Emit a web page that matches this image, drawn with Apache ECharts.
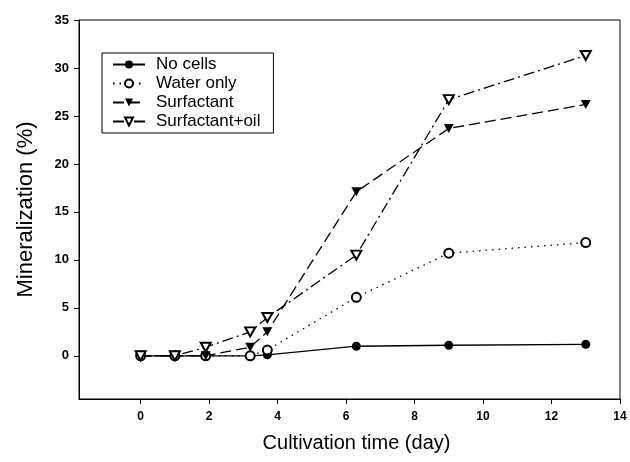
<!DOCTYPE html>
<html>
<head>
    <meta charset="utf-8">
    <title>Mineralization</title>
    <script src="https://cdn.jsdelivr.net/npm/echarts@6/dist/echarts.min.js"></script>
    <style>
        html, body { margin: 0; padding: 0; background: #fff; }
        #chart { width: 630px; height: 462px; }
    </style>
</head>
<body>
<div id="chart"></div>
<script>
    // sampling days and mineralization (%) per treatment
    var days = [0, 1, 1.9, 3.2, 3.7, 6.3, 9, 13];
    var noCells = [0, 0, 0, 0, 0.1, 1.0, 1.1, 1.2];
    var waterOnly = [0, 0, 0, 0, 0.6, 6.1, 10.7, 11.8];
    var surfactant = [0, 0, 0, 0.9, 2.5, 17.1, 23.7, 26.2];
    var surfactantOil = [0, 0, 0.9, 2.5, 4.0, 10.5, 26.7, 31.3];
    var xTicks = [0, 2, 4, 6, 8, 10, 12, 14];
    var yTicks = [0, 5, 10, 15, 20, 25, 30, 35];

    function pairs(ys) {
        return days.map(function (d, i) { return [d, ys[i]]; });
    }

    var chart = echarts.init(document.getElementById('chart'));

    var font = 'Liberation Sans, Arial, sans-serif';

    function makeSeries(name, ys, symbol, rotate, size, dash) {
        return {
            name: name,
            type: 'line',
            data: pairs(ys),
            symbol: symbol,
            symbolRotate: rotate,
            symbolSize: size,
            showAllSymbol: true,
            lineStyle: { color: '#000', width: 1.3, type: dash },
            itemStyle: { color: '#000', borderWidth: 1.2 },
            emphasis: { disabled: true },
            animation: false
        };
    }

    var option = {
        backgroundColor: '#fff',
        grid: {
            left: 79, right: 10, top: 20, bottom: 63,
            show: true, borderColor: '#000', borderWidth: 1
        },
        legend: {
            left: 102, top: 53,
            orient: 'vertical',
            itemWidth: 32, itemHeight: 10, itemGap: 2,
            padding: [3, 13, 3, 10],
            borderColor: '#000', borderWidth: 1,
            textStyle: { fontFamily: font, fontSize: 17, lineHeight: 17, color: '#000', padding: [0, 0, 0, 6] },
            data: ['No cells', 'Water only', 'Surfactant', 'Surfactant+oil']
        },
        xAxis: {
            type: 'value',
            min: -1.8, max: 14,
            name: 'Cultivation time (day)',
            nameLocation: 'middle',
            nameGap: 34,
            nameTextStyle: { fontFamily: font, fontSize: 20, color: '#000', padding: [0, 0, 0, 14] },
            axisLine: { onZero: false, lineStyle: { color: '#000' } },
            axisTick: { customValues: xTicks, length: 5, lineStyle: { color: '#000' } },
            axisLabel: {
                customValues: xTicks,
                fontFamily: font, fontSize: 12, fontWeight: 'bold', color: '#000', margin: 12
            },
            splitLine: { show: false }
        },
        yAxis: {
            type: 'value',
            min: -4.5, max: 35,
            name: 'Mineralization (%)',
            nameLocation: 'middle',
            nameGap: 42,
            nameTextStyle: { fontFamily: font, fontSize: 22, color: '#000' },
            axisLine: { onZero: false, lineStyle: { color: '#000' } },
            axisTick: { customValues: yTicks, length: 5, lineStyle: { color: '#000' } },
            axisLabel: {
                customValues: yTicks,
                fontFamily: font, fontSize: 13, fontWeight: 'bold', color: '#000', margin: 10
            },
            splitLine: { show: false }
        },
        series: [
            makeSeries('No cells', noCells, 'circle', 0, 9, 'solid'),
            makeSeries('Water only', waterOnly, 'emptyCircle', 0, 9, [1.5, 5]),
            makeSeries('Surfactant', surfactant, 'triangle', 180, [10, 9], [11, 5]),
            makeSeries('Surfactant+oil', surfactantOil, 'emptyTriangle', 180, [10, 9], [11, 4, 2, 4])
        ]
    };

    chart.setOption(option);
</script>
</body>
</html>
